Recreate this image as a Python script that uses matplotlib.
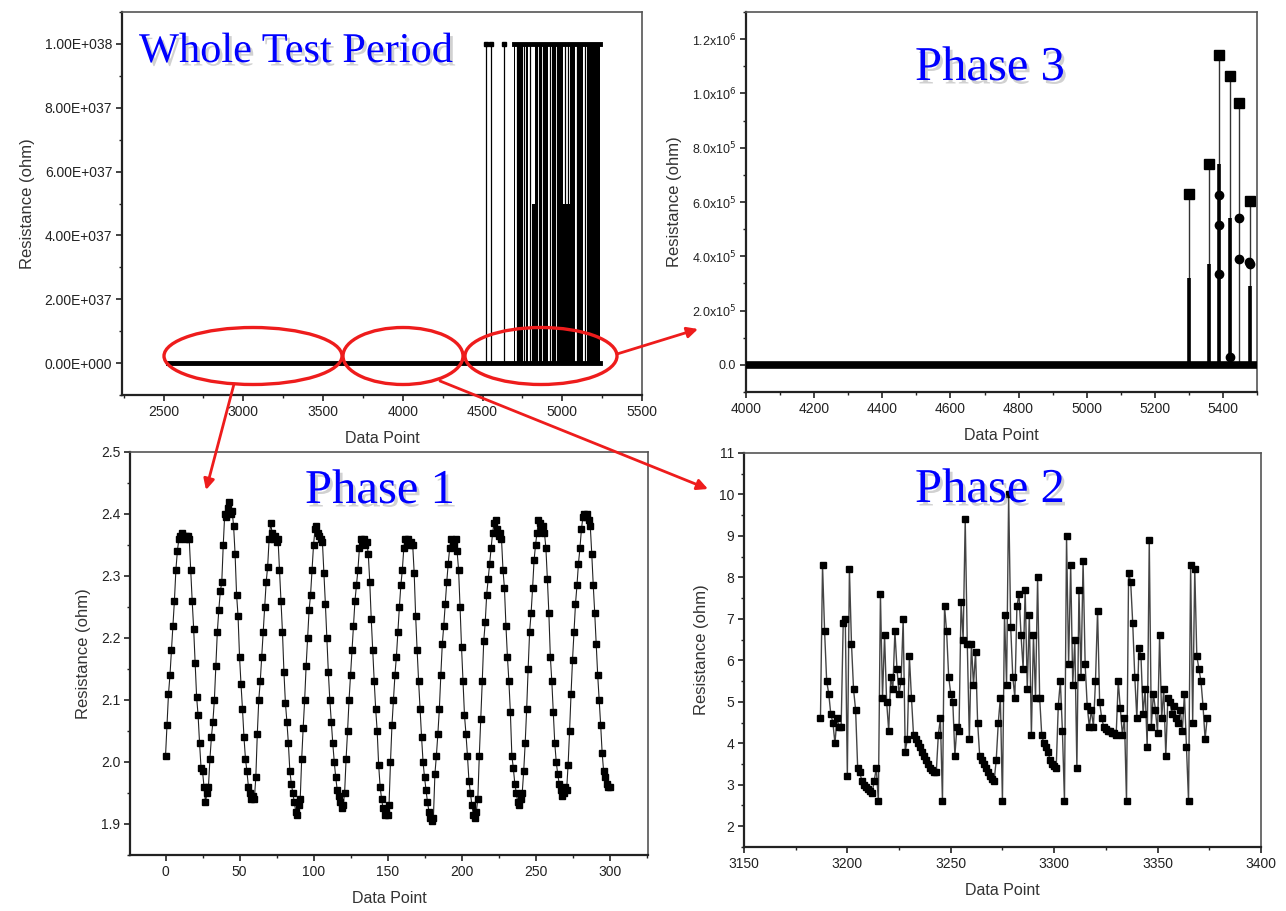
import numpy as np
import matplotlib
matplotlib.use('Agg')
import matplotlib.pyplot as plt
import matplotlib.patheffects as pe
from matplotlib.patches import Ellipse
from matplotlib.ticker import MultipleLocator, FuncFormatter

plt.rcParams['font.family'] = ['Liberation Sans', 'DejaVu Sans']

# ---------------- data ----------------
# whole test period: zero readings, then overflow readings (1e38)
whole_base_x = [2525, 5237]
whole_base_y = [0, 0]
whole_spike_x = [4519, 4550, 4637, 4714, 4762, 4795, 4855, 4880, 4920, 4966, 5015, 5035, 5090, 5141]
whole_block_start = [4694, 4725, 4771, 4829, 4860, 4887, 4933, 4975, 5048, 5100, 5152]
whole_block_end = [4704, 4756, 4787, 4850, 4875, 4912, 4958, 5002, 5079, 5131, 5237]
whole_half_start = [4808, 5002]
whole_half_end = [4829, 5048]
whole_top_x = [4694, 5237]
whole_top_mark_x = [4519, 4550, 4637]
overflow = 1.0e38

# phase 3
p3_base_x = [4000, 5500]
p3_base_y = [0, 0]
p3_spike_x = [5300, 5359, 5388, 5420, 5447, 5480]
p3_spike_top = [6.3e5, 7.4e5, 1.14e6, 1.065e6, 9.65e5, 6.05e5]
p3_spike_mid = [3.2e5, 3.7e5, 7.4e5, 5.4e5, 0.0, 2.9e5]
p3_extra_x = [5388, 5388, 5388, 5447, 5447, 5475, 5480, 5420]
p3_extra_y = [6.25e5, 5.15e5, 3.35e5, 5.4e5, 3.9e5, 3.8e5, 3.7e5, 0.3e5]

# phase 1 (one value per data point, 0..300)
p1_values = [
    2.01, 2.06, 2.11, 2.14, 2.18, 2.22, 2.26, 2.31, 2.34, 2.36,
    2.365, 2.37, 2.365, 2.36, 2.365, 2.365, 2.36,
    2.31, 2.26, 2.215, 2.16, 2.105, 2.075, 2.03, 1.99, 1.985, 1.96,
    1.935, 1.95, 1.96,
    2.005, 2.04, 2.065, 2.10, 2.155, 2.21, 2.245, 2.275, 2.29, 2.35, 2.40,
    2.395, 2.41, 2.42, 2.40, 2.405, 2.38,
    2.335, 2.27, 2.235, 2.17, 2.125, 2.085, 2.04, 2.005, 1.985, 1.96,
    1.95, 1.94, 1.945, 1.94,
    1.975, 2.045, 2.10, 2.13, 2.17, 2.21, 2.25, 2.29, 2.315, 2.36, 2.385,
    2.37, 2.36, 2.365, 2.355, 2.36,
    2.31, 2.26, 2.21, 2.145, 2.095, 2.065, 2.03, 1.985, 1.965, 1.95,
    1.935, 1.92, 1.915, 1.93,
    1.94, 2.005, 2.055, 2.10, 2.155, 2.20, 2.245, 2.27, 2.31, 2.35, 2.375,
    2.38, 2.37, 2.365, 2.36, 2.355,
    2.305, 2.255, 2.20, 2.145, 2.10, 2.065, 2.03, 2.0, 1.975, 1.955,
    1.945, 1.935, 1.925, 1.93,
    1.95, 2.005, 2.05, 2.10, 2.14, 2.18, 2.22, 2.26, 2.285, 2.31, 2.345,
    2.36, 2.355, 2.36, 2.35, 2.355,
    2.335, 2.29, 2.23, 2.18, 2.13, 2.085, 2.05, 1.995, 1.96, 1.94,
    1.925, 1.915, 1.92, 1.915,
    1.93, 2.0, 2.06, 2.10, 2.14, 2.17, 2.21, 2.25, 2.285, 2.31, 2.345, 2.36,
    2.355, 2.36, 2.35, 2.355, 2.35,
    2.305, 2.235, 2.18, 2.13, 2.085, 2.04, 2.0, 1.975, 1.955,
    1.935, 1.92, 1.91, 1.905, 1.91,
    1.98, 2.01, 2.045, 2.085, 2.14, 2.19, 2.22, 2.255, 2.29, 2.32, 2.345,
    2.36, 2.355, 2.35, 2.36, 2.34,
    2.31, 2.25, 2.185, 2.13, 2.075, 2.045, 2.01, 1.97, 1.95,
    1.93, 1.915, 1.91, 1.92, 1.94,
    2.01, 2.07, 2.13, 2.195, 2.225, 2.27, 2.295, 2.32, 2.345, 2.37,
    2.385, 2.39, 2.375, 2.365, 2.37, 2.36,
    2.31, 2.28, 2.22, 2.17, 2.13, 2.08, 2.01, 1.99, 1.965,
    1.95, 1.935, 1.93, 1.94, 1.95,
    1.985, 2.03, 2.085, 2.15, 2.21, 2.24, 2.28, 2.325, 2.35, 2.37,
    2.39, 2.385, 2.375, 2.38, 2.37,
    2.345, 2.295, 2.24, 2.17, 2.13, 2.08, 2.03, 2.0, 1.98, 1.965,
    1.955, 1.945, 1.95, 1.96, 1.955,
    1.995, 2.05, 2.11, 2.165, 2.21, 2.255, 2.285, 2.32, 2.345, 2.375,
    2.395, 2.40, 2.395, 2.40, 2.39,
    2.38, 2.335, 2.285, 2.24, 2.19, 2.14, 2.10, 2.06, 2.015, 1.985,
    1.975, 1.965, 1.96, 1.96,
]
p1_x = np.arange(len(p1_values))

# phase 2 (data points 3187..3374)
p2_start = 3187
p2_values = [
    4.6, 8.3, 6.7, 5.5, 5.2, 4.7, 4.5, 4.0, 4.6, 4.4,
    4.4, 6.9, 7.0, 3.2, 8.2, 6.4, 5.3, 4.8, 3.4, 3.3,
    3.1, 3.0, 2.95, 2.9, 2.85, 2.8, 3.1, 3.4, 2.6, 7.6,
    5.1, 6.6, 5.0, 4.3, 5.6, 5.3, 6.7, 5.8, 5.2, 5.5,
    7.0, 3.8, 4.1, 6.1, 5.1, 4.2, 4.1, 4.0, 3.9, 3.8,
    3.7, 3.6, 3.5, 3.4, 3.35, 3.3, 3.3, 4.2, 4.6, 2.6,
    7.3, 6.7, 5.6, 5.2, 5.0, 3.7, 4.4, 4.3, 7.4, 6.5,
    9.4, 6.4, 4.1, 6.4, 5.4, 6.2, 4.5, 3.7, 3.6, 3.5,
    3.4, 3.3, 3.2, 3.15, 3.1, 3.6, 4.5, 5.1, 2.6, 7.1,
    5.4, 10.0, 6.8, 5.6, 5.1, 7.3, 7.6, 6.6, 5.8, 7.7,
    5.3, 7.1, 4.2, 6.6, 5.1, 8.0, 5.1, 4.2, 4.0, 3.9,
    3.8, 3.6, 3.5, 3.45, 3.4, 4.9, 5.5, 4.3, 2.6, 9.0,
    5.9, 8.3, 5.4, 6.5, 3.4, 7.7, 5.6, 8.4, 5.9, 4.9,
    4.4, 4.8, 4.4, 5.5, 7.2, 5.0, 4.6, 4.4, 4.35, 4.3,
    4.3, 4.25, 4.25, 4.2, 5.5, 4.85, 4.2, 4.6, 2.6, 8.1,
    7.9, 6.9, 5.6, 4.6, 6.3, 6.1, 4.7, 5.3, 3.9, 8.9,
    4.4, 5.2, 4.8, 4.25, 6.6, 4.6, 5.3, 3.7, 5.1, 5.0,
    4.7, 4.9, 4.6, 4.5, 4.8, 4.3, 5.2, 3.9, 2.6, 8.3,
    4.5, 8.2, 6.1, 5.8, 5.5, 4.9, 4.1, 4.6,
]
p2_x = p2_start + np.arange(len(p2_values))

# ---------------- figure ----------------
fig = plt.figure(figsize=(12.86, 9.11), dpi=100)

ax_tl = fig.add_axes([0.0949, 0.5664, 0.4044, 0.4204])
ax_tr = fig.add_axes([0.5801, 0.5697, 0.3974, 0.4171])
ax_bl = fig.add_axes([0.1011, 0.0615, 0.4028, 0.4424])
ax_br = fig.add_axes([0.5785, 0.0703, 0.4020, 0.4325])


def style_axes(ax):
    for side in ['left', 'bottom']:
        ax.spines[side].set_linewidth(1.6)
        ax.spines[side].set_color('#222222')
    for side in ['top', 'right']:
        ax.spines[side].set_linewidth(1.2)
        ax.spines[side].set_color('#555555')
    ax.tick_params(which='major', direction='out', length=4, width=1.2, labelsize=10,
                   colors='#222222', pad=3)
    ax.tick_params(which='minor', direction='out', length=2.5, width=1.0, colors='#222222')
    ax.set_xlabel('Data Point', fontsize=11.5, color='#333333', labelpad=9)
    ax.set_ylabel('Resistance (ohm)', fontsize=12, color='#333333', labelpad=7)


def sci_e(v, pos):
    if v == 0:
        return '0.00E+000'
    e = int(np.floor(np.log10(abs(v)) + 1e-9))
    return '%.2fE+%03d' % (v / 10 ** e, e)


def sci_x(v, pos):
    if abs(v) < 1:
        return '0.0'
    e = int(np.floor(np.log10(abs(v)) + 1e-9))
    return '%.1fx10$^{%d}$' % (v / 10 ** e, e)


# whole test period
ax_tl.plot(whole_base_x, whole_base_y, color='black', lw=3.5, zorder=3)
ax_tl.vlines(whole_spike_x, 0, overflow, color='black', lw=0.9)
ax_tl.bar(whole_block_start, overflow, width=np.array(whole_block_end) - np.array(whole_block_start),
          align='edge', color='black', linewidth=0)
ax_tl.bar(whole_half_start, overflow / 2, width=np.array(whole_half_end) - np.array(whole_half_start),
          align='edge', color='black', linewidth=0)
ax_tl.plot(whole_top_x, [overflow, overflow], color='black', lw=3.5)
ax_tl.plot(whole_top_mark_x, [overflow] * len(whole_top_mark_x), 's', color='black', ms=3.5)
ax_tl.set_xlim(2240, 5500)
ax_tl.set_ylim(-0.1e38, 1.1e38)
ax_tl.xaxis.set_major_locator(MultipleLocator(500))
ax_tl.xaxis.set_minor_locator(MultipleLocator(250))
ax_tl.yaxis.set_major_locator(MultipleLocator(2e37))
ax_tl.yaxis.set_minor_locator(MultipleLocator(1e37))
ax_tl.yaxis.set_major_formatter(FuncFormatter(sci_e))
style_axes(ax_tl)

# phase 3
ax_tr.plot(p3_base_x, p3_base_y, color='black', lw=5.5, zorder=3)
ax_tr.vlines(p3_spike_x, 0, p3_spike_top, color='#333333', lw=1.0)
ax_tr.vlines(p3_spike_x, 0, p3_spike_mid, color='black', lw=2.6)
ax_tr.plot(p3_spike_x, p3_spike_top, 's', color='black', ms=6.5)
ax_tr.plot(p3_extra_x, p3_extra_y, 'o', color='black', ms=6)
ax_tr.set_xlim(4000, 5500)
ax_tr.set_ylim(-0.1e6, 1.3e6)
ax_tr.xaxis.set_major_locator(MultipleLocator(200))
ax_tr.xaxis.set_minor_locator(MultipleLocator(100))
ax_tr.yaxis.set_major_locator(MultipleLocator(2e5))
ax_tr.yaxis.set_minor_locator(MultipleLocator(1e5))
ax_tr.yaxis.set_major_formatter(FuncFormatter(sci_x))
style_axes(ax_tr)
ax_tr.tick_params(axis='y', labelsize=9)

# phase 1
ax_bl.plot(p1_x, p1_values, '-', color='#222222', lw=0.8, marker='s', ms=5,
           markerfacecolor='black', markeredgecolor='black')
ax_bl.set_xlim(-24, 326)
ax_bl.set_ylim(1.85, 2.5)
ax_bl.xaxis.set_major_locator(MultipleLocator(50))
ax_bl.xaxis.set_minor_locator(MultipleLocator(25))
ax_bl.yaxis.set_major_locator(MultipleLocator(0.1))
ax_bl.yaxis.set_minor_locator(MultipleLocator(0.05))
ax_bl.yaxis.set_major_formatter(FuncFormatter(lambda v, p: '%.1f' % v))
style_axes(ax_bl)

# phase 2
ax_br.plot(p2_x, p2_values, '-', color='#444444', lw=1.0, marker='s', ms=5,
           markerfacecolor='black', markeredgecolor='black')
ax_br.set_xlim(3150, 3400)
ax_br.set_ylim(1.5, 11)
ax_br.xaxis.set_major_locator(MultipleLocator(50))
ax_br.xaxis.set_minor_locator(MultipleLocator(25))
ax_br.yaxis.set_major_locator(MultipleLocator(1))
ax_br.yaxis.set_minor_locator(MultipleLocator(0.5))
style_axes(ax_br)

# titles with a soft shadow
shadow = [pe.SimplePatchShadow(offset=(2, -2.5), shadow_rgbFace='#999999', alpha=0.45), pe.Normal()]
title_kw = dict(family=['Liberation Serif', 'DejaVu Serif'], color='#0000ff', ha='left',
                va='baseline', path_effects=shadow, zorder=10)

# overlay in pixel coordinates for titles, circles and arrows
ov = fig.add_axes([0, 0, 1, 1], zorder=20)
ov.set_xlim(0, 1286)
ov.set_ylim(911, 0)
ov.axis('off')

ov.text(139, 62, 'Whole Test Period', fontsize=30.5, **title_kw)
ov.text(915, 80, 'Phase 3', fontsize=35, **title_kw)
ov.text(305, 503, 'Phase 1', fontsize=35, **title_kw)
ov.text(915, 502, 'Phase 2', fontsize=35, **title_kw)

red = '#ee1c1c'
for cx, w in [(253, 178), (403, 120), (541, 152)]:
    ov.add_patch(Ellipse((cx, 356), w, 57, fill=False, edgecolor=red, lw=2.4))

arrow_kw = dict(arrowstyle='-|>', color=red, lw=2.0, mutation_scale=16, shrinkA=0, shrinkB=0)
ov.annotate('', xy=(206, 490), xytext=(234, 384), arrowprops=arrow_kw)
ov.annotate('', xy=(708, 489), xytext=(440, 381), arrowprops=arrow_kw)
ov.annotate('', xy=(698, 329), xytext=(617, 354), arrowprops=arrow_kw)

fig.savefig('out.png', dpi=100)
